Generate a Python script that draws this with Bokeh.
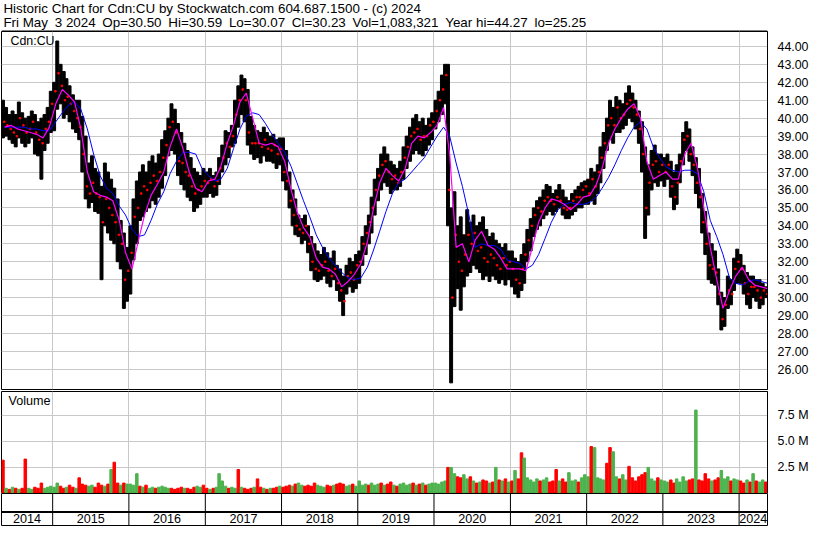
import pandas as pd
from bokeh.plotting import figure
from bokeh.models import Range1d, FixedTicker, NumeralTickFormatter, Label, Span
from bokeh.layouts import column
from bokeh.embed import file_html
from bokeh.resources import INLINE
from bokeh.core.properties import value

TITLE1 = "Historic Chart for Cdn:CU by Stockwatch.com 604.687.1500 - (c) 2024"
TITLE2 = "Fri May  3 2024  Op=30.50  Hi=30.59  Lo=30.07  Cl=30.23  Vol=1,083,321  Year hi=44.27  lo=25.25"
SYMBOL = "Cdn:CU"
VOL_TITLE = "Volume"

first_month = "2014-05-01"

# ---- half-month price ranges (1st-15th, 16th-end), May 2014 .. early May 2024
high_2014 = [41.0, 40.6, 40.2, 40.4, 40.2, 40.9, 40.3, 40.0, 40.1, 40.4, 40.2, 39.8, 40.0, 40.2, 40.6, 41.5]
low_2014 = [38.9, 39.0, 38.8, 38.6, 38.4, 38.9, 38.6, 38.4, 38.6, 38.9, 38.0, 37.9, 36.6, 38.2, 38.6, 39.2]
close_2014 = [39.8, 39.6, 39.4, 39.2, 39.0, 40.0, 39.6, 39.2, 39.4, 39.8, 39.2, 38.8, 38.6, 39.4, 39.8, 40.8]

high_2015 = [42.0, 44.3, 43.0, 42.6, 42.2, 41.8, 41.3, 41.0, 41.0, 40.1, 39.0, 37.5, 37.9, 37.2, 37.0, 36.2, 37.5, 37.0, 36.6, 36.1, 35.5, 34.3, 33.6, 32.8]
low_2015 = [39.3, 40.5, 40.8, 40.0, 40.2, 39.8, 39.4, 39.2, 38.8, 37.0, 35.5, 35.0, 35.3, 34.8, 34.7, 31.0, 34.0, 33.6, 33.2, 33.0, 32.0, 31.6, 29.4, 29.8]
close_2015 = [41.5, 42.5, 41.8, 41.0, 41.2, 40.8, 40.4, 40.0, 39.5, 38.0, 36.2, 35.8, 36.4, 35.8, 35.6, 34.2, 35.5, 35.0, 34.6, 34.2, 33.5, 33.0, 31.0, 31.5]

high_2016 = [34.0, 35.5, 36.5, 37.0, 37.4, 37.0, 37.6, 37.9, 37.5, 38.0, 38.8, 39.3, 40.0, 40.8, 40.5, 39.7, 39.2, 38.6, 38.2, 37.8, 37.2, 37.0, 36.8, 37.2]
low_2016 = [30.2, 32.1, 33.0, 34.3, 34.5, 34.8, 35.0, 35.4, 35.2, 35.6, 36.1, 36.8, 37.9, 38.2, 38.0, 36.8, 36.3, 36.0, 35.6, 35.4, 34.8, 35.0, 35.2, 35.6]
close_2016 = [32.5, 34.5, 35.0, 35.8, 36.2, 36.0, 36.4, 36.8, 36.5, 37.0, 37.8, 38.5, 39.5, 39.8, 39.2, 37.6, 37.5, 37.0, 36.8, 36.2, 35.8, 36.0, 36.2, 36.5]

high_2017 = [37.0, 37.2, 36.8, 37.0, 37.8, 38.5, 39.3, 39.2, 39.6, 41.0, 41.8, 42.4, 42.2, 41.6, 40.1, 39.6, 39.3, 39.2, 39.5, 39.2, 39.0, 39.1, 38.8, 38.9]
low_2017 = [35.6, 35.8, 35.6, 35.7, 36.3, 37.0, 37.4, 37.8, 38.4, 38.6, 39.5, 40.2, 39.8, 38.5, 38.0, 37.7, 37.8, 37.5, 37.9, 37.6, 37.6, 37.5, 37.2, 37.4]
close_2017 = [36.4, 36.6, 36.2, 36.5, 37.2, 37.8, 38.6, 38.4, 39.0, 40.2, 41.0, 41.6, 41.0, 39.2, 38.6, 38.6, 38.6, 38.4, 38.8, 38.3, 38.2, 38.5, 38.0, 38.3]

high_2018 = [38.9, 38.2, 37.0, 36.0, 35.5, 34.6, 34.4, 34.6, 34.0, 33.4, 33.0, 32.6, 32.4, 32.8, 32.5, 32.2, 32.6, 31.8, 31.6, 31.2, 31.8, 32.2, 32.0, 32.4]
low_2018 = [36.5, 36.0, 35.0, 34.0, 33.5, 33.4, 33.0, 33.2, 32.5, 31.5, 31.0, 30.9, 31.0, 31.2, 30.8, 30.6, 31.0, 30.4, 29.8, 29.0, 30.2, 30.6, 30.3, 30.5]
close_2018 = [37.0, 36.5, 35.4, 34.6, 34.0, 33.8, 33.6, 34.0, 33.0, 32.0, 31.6, 31.5, 31.8, 32.0, 31.5, 31.2, 31.6, 30.8, 30.4, 29.8, 31.2, 31.4, 31.0, 31.8]

high_2019 = [32.6, 33.4, 34.0, 34.6, 35.6, 36.6, 37.2, 38.0, 38.4, 38.0, 37.6, 37.4, 37.2, 37.6, 38.4, 39.0, 39.5, 40.0, 40.2, 39.8, 40.0, 39.6, 40.0, 40.3]
low_2019 = [30.8, 31.8, 32.4, 33.0, 33.6, 34.6, 35.4, 36.0, 36.4, 36.2, 35.8, 36.0, 36.0, 36.2, 36.6, 37.2, 37.6, 38.0, 38.2, 38.0, 37.9, 38.2, 38.5, 38.8]
close_2019 = [32.0, 33.0, 33.6, 34.2, 35.0, 36.0, 36.8, 37.4, 37.6, 37.0, 36.6, 36.8, 36.4, 37.0, 37.8, 38.4, 39.0, 39.2, 39.4, 38.8, 39.0, 39.0, 39.6, 39.8]

high_2020 = [41.0, 41.5, 42.4, 43.0, 43.0, 35.0, 35.9, 34.0, 34.5, 33.5, 34.9, 34.2, 34.6, 34.0, 34.2, 34.5, 33.8, 33.4, 33.6, 33.2, 33.0, 32.8, 33.0, 32.6]
low_2020 = [39.4, 39.8, 40.2, 40.8, 34.0, 25.25, 29.5, 30.5, 29.3, 30.6, 31.2, 31.4, 31.8, 31.6, 31.4, 31.0, 31.2, 30.9, 31.2, 31.0, 30.8, 31.0, 30.7, 31.0]
close_2020 = [40.4, 41.0, 41.6, 42.4, 36.0, 30.0, 33.5, 32.0, 31.5, 32.4, 33.5, 33.0, 33.6, 32.6, 32.8, 32.2, 32.0, 32.4, 32.2, 31.8, 31.6, 32.2, 31.8, 32.0]

high_2021 = [32.6, 32.2, 32.0, 32.4, 33.0, 33.8, 34.4, 35.0, 35.4, 35.6, 36.0, 36.3, 36.2, 35.8, 36.0, 36.3, 36.0, 35.6, 35.4, 35.8, 36.0, 36.2, 36.4, 36.5]
low_2021 = [30.6, 30.2, 30.0, 30.4, 30.8, 32.0, 32.6, 33.4, 33.8, 34.0, 34.4, 34.6, 34.8, 34.6, 34.8, 35.0, 34.6, 34.4, 34.4, 34.6, 34.8, 35.0, 35.0, 35.2]
close_2021 = [31.6, 31.0, 30.8, 31.6, 32.4, 33.2, 34.0, 34.6, 35.0, 34.8, 35.4, 35.6, 35.4, 35.2, 35.6, 35.4, 35.0, 34.9, 35.0, 35.4, 35.6, 35.6, 36.0, 36.2]

high_2022 = [36.6, 37.2, 37.0, 37.4, 38.4, 39.2, 40.0, 41.0, 40.6, 41.2, 41.0, 40.8, 41.4, 41.8, 41.4, 41.0, 40.4, 39.8, 38.4, 37.4, 38.2, 38.5, 38.0, 38.0]
low_2022 = [35.2, 35.4, 35.2, 35.8, 36.4, 37.2, 38.2, 38.8, 38.6, 39.2, 39.2, 39.4, 39.6, 40.0, 39.8, 39.4, 38.6, 37.0, 33.3, 34.6, 36.0, 36.4, 36.2, 36.5]
close_2022 = [35.8, 36.6, 36.2, 37.0, 37.8, 38.6, 39.6, 40.0, 39.6, 40.6, 40.0, 40.2, 40.8, 41.0, 40.6, 40.2, 39.4, 38.0, 35.0, 36.4, 37.4, 37.6, 37.0, 37.4]

high_2023 = [37.8, 38.0, 37.6, 37.0, 37.4, 38.0, 39.2, 39.8, 39.4, 38.4, 37.8, 37.2, 35.8, 34.8, 33.6, 33.0, 32.6, 31.6, 30.3, 30.0, 31.2, 31.0, 32.2, 32.7]
low_2023 = [36.2, 36.6, 35.6, 34.9, 35.2, 36.4, 37.4, 38.2, 37.6, 36.8, 35.8, 35.0, 33.6, 32.4, 31.0, 30.8, 30.7, 29.6, 28.2, 28.4, 29.4, 29.6, 30.4, 30.8]
close_2023 = [37.0, 37.4, 36.2, 35.6, 36.4, 37.6, 38.8, 39.0, 38.0, 37.4, 36.4, 35.6, 34.2, 33.0, 31.8, 31.6, 31.4, 30.2, 28.8, 29.6, 30.4, 30.2, 31.6, 32.0]

high_2024 = [32.4, 31.8, 31.4, 31.2, 31.2, 31.0, 31.0, 30.8, 30.6]
low_2024 = [30.8, 30.2, 29.6, 29.4, 30.0, 29.8, 29.4, 29.6, 30.0]
close_2024 = [31.6, 30.8, 30.2, 30.6, 30.6, 30.4, 30.0, 30.4, 30.2]

# ---- half-month volume (millions) and bar colour (u = green, d = red)
vol_2014 = [3.2, 0.5, 0.4, 0.6, 0.5, 0.4, 0.5, 3.3, 0.5, 0.4, 0.6, 0.5, 1.0, 0.5, 0.6, 0.7]
vol_2015 = [0.6, 1.0, 0.7, 0.5, 0.6, 0.8, 0.6, 0.5, 1.5, 0.9, 0.8, 0.7, 0.8, 0.6, 1.0, 0.8, 0.7, 0.9, 2.3, 3.0, 1.0, 0.8, 1.0, 0.9]
vol_2016 = [0.9, 0.8, 1.9, 0.7, 0.6, 0.8, 0.5, 0.6, 0.5, 0.6, 0.7, 0.6, 0.5, 0.5, 0.4, 0.5, 0.6, 0.5, 0.5, 0.4, 0.6, 0.7, 0.6, 0.8]
vol_2017 = [0.5, 0.4, 0.5, 0.6, 1.9, 1.2, 0.7, 0.5, 0.6, 0.5, 2.3, 0.6, 0.5, 0.4, 0.5, 0.6, 1.4, 0.6, 0.5, 0.4, 0.5, 0.5, 0.6, 0.7]
vol_2018 = [0.6, 0.7, 0.8, 0.7, 0.9, 1.0, 0.8, 0.7, 0.8, 0.7, 1.0, 0.8, 0.7, 0.6, 0.8, 0.7, 0.8, 0.9, 1.0, 0.9, 0.7, 0.8, 0.9, 0.7]
vol_2019 = [1.2, 0.8, 0.9, 0.8, 1.0, 0.8, 0.9, 1.0, 0.8, 0.9, 1.1, 0.8, 0.7, 0.9, 1.0, 0.8, 0.9, 1.0, 0.8, 0.9, 1.0, 0.8, 0.9, 1.0]
vol_2020 = [1.0, 0.9, 1.1, 1.2, 2.5, 2.5, 1.9, 1.6, 1.5, 1.8, 1.4, 1.6, 1.2, 1.0, 1.1, 1.3, 1.2, 1.0, 1.1, 2.5, 1.3, 1.2, 1.4, 1.1]
vol_2021 = [1.2, 2.2, 1.4, 3.9, 3.4, 1.5, 1.3, 1.1, 1.4, 1.2, 1.3, 1.5, 1.1, 1.2, 2.3, 1.2, 1.4, 1.1, 2.0, 1.2, 1.3, 1.1, 1.5, 1.8]
vol_2022 = [1.6, 4.5, 4.4, 1.5, 1.4, 1.3, 2.9, 4.4, 4.0, 1.6, 1.4, 1.8, 1.3, 2.6, 1.5, 1.2, 1.6, 1.8, 2.0, 2.5, 1.4, 1.2, 1.5, 1.3]
vol_2023 = [1.2, 1.1, 1.3, 1.0, 1.4, 1.1, 1.6, 1.2, 1.3, 1.4, 8.0, 1.3, 1.2, 1.9, 1.4, 1.2, 1.3, 1.5, 2.2, 1.4, 1.6, 1.2, 1.4, 1.3]
vol_2024 = [1.2, 1.0, 1.3, 1.1, 1.9, 1.2, 1.1, 1.3, 1.1]
vol_dir = ("dudu dudd uudd duuu "
           "uudd uddu dddu uddd udud dudu "
           "uuud uduu duuu uddd dudd duud "
           "dudu uuud uudu dddu ddud uddu "
           "dddu duud dddu uudd uddd uudu "
           "uuud uuud uddu duuu udud uduu "
           "uuuu duud duud udud dudu dudu "
           "dudd uuuu uduu dddu dduu uduu "
           "uduu uudd uudu uddd dddu uudu "
           "uudd uuuu ddud dddu dduu uduu "
           "ddud uduu d")

# ---- monthly moving averages (mid-month values)
ma_fast = [39.5, 39.6, 39.4, 39.3, 39.2, 39.1, 38.9, 39.5,
           40.8, 41.6, 41.3, 40.9, 39.4, 37.0, 35.9, 35.7, 35.6, 35.4, 34.3, 32.5,
           31.6, 33.2, 34.6, 35.7, 36.3, 37.0, 38.4, 39.4, 38.3, 37.0, 36.1, 35.9,
           36.5, 36.6, 37.3, 38.6, 39.6, 40.9, 41.4, 40.0, 38.6, 38.5, 38.6, 38.4,
           37.6, 36.0, 34.8, 33.9, 33.4, 32.2, 31.7, 31.6, 31.3, 30.6, 30.9, 31.3,
           31.9, 33.1, 34.9, 36.4, 37.2, 36.8, 36.5, 37.2, 38.6, 39.0, 38.9, 39.2,
           39.6, 40.6, 38.0, 32.8, 33.0, 32.0, 33.2, 33.7, 32.9, 32.7, 32.2, 31.6,
           31.6, 31.6, 31.5, 32.8, 34.2, 35.0, 35.5, 35.4, 35.2, 34.9, 35.2, 35.6,
           35.7, 36.3, 37.2, 38.6, 39.4, 40.0, 40.5, 40.8, 40.0, 37.6, 36.6, 36.8,
           37.0, 36.6, 36.6, 38.0, 38.6, 37.2, 35.0, 32.8, 31.0, 29.4, 30.4, 31.2,
           31.7, 31.0, 30.7, 30.6, 30.5]
ma_slow = [39.5, 39.5, 39.5, 39.5, 39.4, 39.4, 39.3, 39.3,
           39.8, 40.3, 40.7, 40.9, 40.5, 39.4, 38.0, 36.8, 36.1, 35.8, 35.1, 34.6,
           33.8, 33.4, 33.5, 34.3, 35.2, 35.9, 36.9, 37.6, 38.1, 38.1, 38.0, 37.2,
           36.8, 36.5, 36.6, 37.2, 38.3, 39.4, 40.1, 40.3, 40.2, 39.7, 39.1, 38.6,
           38.1, 37.3, 36.4, 35.4, 34.5, 33.5, 32.8, 32.2, 31.8, 31.4, 31.1, 31.0,
           31.1, 31.7, 32.6, 33.7, 34.8, 35.8, 36.4, 36.6, 37.0, 37.4, 37.8, 38.4,
           39.0, 39.5, 39.0, 37.5, 36.2, 34.6, 32.8, 33.0, 32.9, 32.9, 32.7, 32.1,
           32.0, 31.9, 31.6, 31.8, 32.4, 33.3, 34.2, 34.9, 35.2, 35.3, 35.2, 35.2,
           35.3, 35.6, 36.1, 36.7, 37.4, 38.2, 38.9, 39.5, 39.8, 39.4, 38.4, 37.8,
           37.3, 37.1, 37.0, 37.1, 37.1, 36.9, 35.9, 34.3, 33.4, 32.4, 31.1, 30.8,
           30.7, 30.9, 31.0, 30.9, 30.8]

price_ticks = list(range(26, 45))
volume_ticks = [2.5, 5.0, 7.5]
volume_tick_labels = ["2.5 M", "5.0 M", "7.5 M"]
years = list(range(2014, 2025))
x_start, x_end = "2014-05-01", "2024-05-16"

# ---------------------------------------------------------------
high = sum([high_2014, high_2015, high_2016, high_2017, high_2018, high_2019,
            high_2020, high_2021, high_2022, high_2023, high_2024], [])
low = sum([low_2014, low_2015, low_2016, low_2017, low_2018, low_2019,
           low_2020, low_2021, low_2022, low_2023, low_2024], [])
close = sum([close_2014, close_2015, close_2016, close_2017, close_2018,
             close_2019, close_2020, close_2021, close_2022, close_2023,
             close_2024], [])
volume = sum([vol_2014, vol_2015, vol_2016, vol_2017, vol_2018, vol_2019,
              vol_2020, vol_2021, vol_2022, vol_2023, vol_2024], [])
dirs = "".join(vol_dir.split())

W = 814
SY = 527 / 543
FONT = "Liberation Sans"
GRID = "#c8c8c8"
RED, GREEN = "#ff0000", "#4db34d"
DAY = 86400000

months = pd.date_range(first_month, periods=len(ma_fast), freq="MS")
month_mid = months + pd.Timedelta(days=15)
halves = []
for m in months:
    halves += [m + pd.Timedelta(days=7), m + pd.Timedelta(days=22)]
n = min(len(halves), len(high), len(low), len(close), len(volume), len(dirs))
halves, high, low, close = halves[:n], high[:n], low[:n], close[:n]
volume, dirs = volume[:n], dirs[:n]

xr = Range1d(pd.Timestamp(x_start), pd.Timestamp(x_end))
year_starts = [pd.Timestamp(f"{y}-01-01") for y in years[1:]]
year_ms = [t.value // 10**6 for t in year_starts]

right_b = W - round(782 * 814 / 830)
title_h = 31
price_frame_h = 358
vol_frame_h = 102


def base(height, y_range, top, bottom):
    f = figure(width=W, height=height, x_range=xr, y_range=y_range,
               x_axis_type="datetime", x_axis_location=None,
               y_axis_location="right", output_backend="svg",
               toolbar_location=None, min_border_left=1,
               min_border_right=right_b, min_border_top=top,
               min_border_bottom=bottom)
    f.outline_line_color = "black"
    f.outline_line_width = 1
    f.background_fill_color = "white"
    f.border_fill_color = "white"
    f.xgrid.ticker = FixedTicker(ticks=year_ms)
    f.xgrid.grid_line_color = GRID
    f.ygrid.grid_line_color = GRID
    return f


def style_axis(ax):
    ax.axis_line_color = "black"
    ax.major_tick_line_color = None
    ax.minor_tick_line_color = None
    ax.major_label_standoff = 4
    ax.major_label_text_font = FONT
    ax.major_label_text_font_size = "12.4px"
    ax.major_label_text_color = "black"


# title strip
tt = figure(width=W, height=title_h, x_range=Range1d(0, W),
            y_range=Range1d(0, title_h), x_axis_location=None,
            y_axis_location=None, output_backend="svg", toolbar_location=None,
            min_border=0)
tt.outline_line_color = None
tt.xgrid.visible = False
tt.ygrid.visible = False
tt.text(x=[2, 2], y=[title_h - 8, title_h - 22],
        text=[TITLE1, TITLE2.replace("  ", "\u2002")],
        text_baseline="middle", text_font=value(FONT),
        text_font_size="13.4px", text_color="black")
tt.segment(x0=[0], y0=[0.5], x1=[W], y1=[0.5], color="black", line_width=1)

# price panel
p = base(price_frame_h + 1, Range1d(24.88, 44.83), 0, 1)
p.yaxis.ticker = FixedTicker(ticks=price_ticks)
p.ygrid.ticker = FixedTicker(ticks=price_ticks)
p.yaxis.formatter = NumeralTickFormatter(format="0.00")
style_axis(p.yaxis[0])
p.vbar(x=halves, bottom=low, top=high, width=14 * DAY, color="black")
p.scatter(x=[h + pd.Timedelta(days=6) for h in halves], y=close,
          marker="square", size=1.5, color=RED)
p.line(month_mid, ma_slow, color="#0000ff", line_width=1)
p.line(month_mid, ma_fast, color="#ff00ff", line_width=1.2)
p.add_layout(Label(x=9, y=price_frame_h - 10 * SY, x_units="screen",
                   y_units="screen", text=SYMBOL, text_baseline="middle",
                   text_font=FONT, text_font_size="12.4px",
                   text_color="black"))

# volume panel
v = base(vol_frame_h + 1, Range1d(0, 9.78), 1, 0)
v.yaxis.ticker = FixedTicker(ticks=volume_ticks)
v.ygrid.ticker = FixedTicker(ticks=volume_ticks)
v.yaxis.major_label_overrides = dict(zip(volume_ticks, volume_tick_labels))
style_axis(v.yaxis[0])
vcol = [GREEN if d == "u" else RED for d in dirs]
v.vbar(x=halves, top=volume, bottom=0, width=12 * DAY, color=vcol)
v.add_layout(Label(x=7, y=vol_frame_h - 10 * SY, x_units="screen",
                   y_units="screen", text=VOL_TITLE, text_baseline="middle",
                   text_font=FONT, text_font_size="12.6px",
                   text_color="black"))

# year row
yr = base(34, Range1d(0, 33), 0, 2)
yr.xgrid.grid_line_color = None
yr.ygrid.grid_line_color = None
yr.yaxis.visible = False
yr.segment(x0=year_starts, y0=0, x1=year_starts, y1=33, color="black",
           line_width=1)
yr.add_layout(Span(location=14, dimension="width", line_color="black",
                   line_width=2))
t0, t1 = pd.Timestamp(x_start), pd.Timestamp(x_end)
ymid = []
for y in years:
    a = max(t0, pd.Timestamp(f"{y}-01-01"))
    b = min(t1, pd.Timestamp(f"{y + 1}-01-01"))
    ymid.append(a + (b - a) / 2)
yr.text(x=ymid, y=7, text=[str(y) for y in years], text_align="center",
        text_baseline="middle", text_font=value(FONT),
        text_font_size="12.6px", text_color="black")

layout = column(tt, p, v, yr, spacing=0)
open("out.html", "w").write(file_html(layout, INLINE))
